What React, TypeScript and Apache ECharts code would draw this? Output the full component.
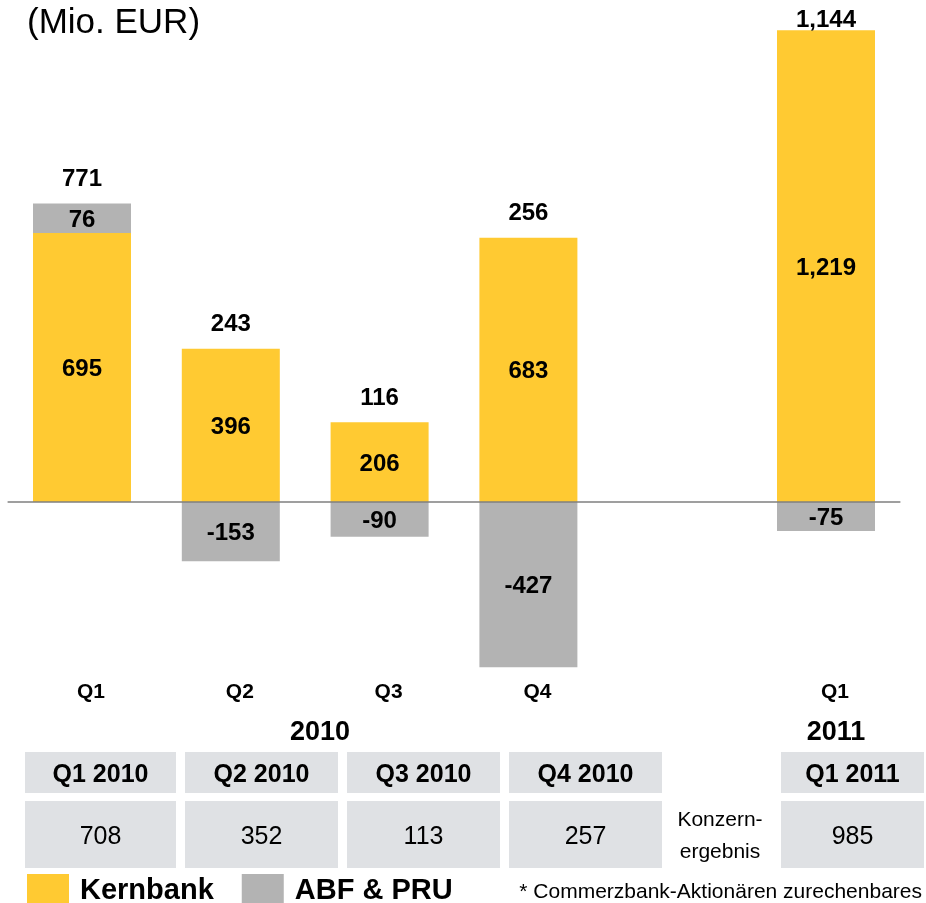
import React, { useEffect, useRef } from "react";
import * as echarts from "echarts";

const categories = ["Q1", "Q2", "Q3", "Q4", "", "Q1"];
const kernbank: (number | null)[] = [695, 396, 206, 683, null, 1219];
const abfPru: (number | null)[] = [76, -153, -90, -427, null, -75];
const yearLabels = ["2010", "2011"];
const tableHeaders = ["Q1 2010", "Q2 2010", "Q3 2010", "Q4 2010", "Q1 2011"];
const konzernergebnis = [708, 352, 113, 257, 985];
const seriesNames = ["Kernbank", "ABF & PRU"];

const FONT = '"Liberation Sans", Arial, Helvetica, sans-serif';
const YELLOW = "#FFCA32";
const GRAY = "#B3B3B3";
const CELL = "#DFE1E4";

const fmt = (v: number) => Number(v).toLocaleString("en-US");

export default function App() {
  const ref = useRef<HTMLDivElement>(null);
  useEffect(() => {
    if (!ref.current) return;
    const chart = echarts.init(ref.current, null, { renderer: "svg" });

    const k = 0.387;
    const zeroY = 502;
    const yMax = 1250;
    const yMin = -450;
    const gridTop = zeroY - yMax * k;
    const gridHeight = (yMax - yMin) * k;

    const totalsData = categories.map((_, i) => {
      const kv = kernbank[i];
      const av = abfPru[i];
      if (kv == null || av == null) return "-";
      const top = kv + Math.max(av, 0);
      const item: any = { value: top, total: kv + av };
      if (i === categories.length - 1) item.label = { distance: 0 };
      return item;
    });

    const colX = [25, 185, 347, 509, 781];
    const colW = [151, 153, 153, 153, 143];
    const graphic: any[] = [];
    graphic.push({
      type: "text",
      x: 27,
      y: 2,
      style: {
        text: "(Mio. EUR)",
        font: `normal 35px ${FONT}`,
        lineHeight: 36,
        fill: "#000",
        textAlign: "left",
        textVerticalAlign: "top",
        align: "left",
        verticalAlign: "top",
      },
    });
    const yearX = [320, 836];
    yearLabels.forEach((y, i) => {
      graphic.push({
        type: "text",
        x: yearX[i],
        y: 731,
        style: {
          text: y,
          font: `bold 27px ${FONT}`,
          fill: "#000",
          textAlign: "center",
          textVerticalAlign: "middle",
          align: "center",
          verticalAlign: "middle",
        },
      });
    });
    tableHeaders.forEach((h, i) => {
      graphic.push({
        type: "rect",
        shape: { x: colX[i], y: 752, width: colW[i], height: 41 },
        style: { fill: CELL },
      });
      graphic.push({
        type: "rect",
        shape: { x: colX[i], y: 801, width: colW[i], height: 67 },
        style: { fill: CELL },
      });
      graphic.push({
        type: "text",
        x: colX[i] + colW[i] / 2,
        y: 772.5,
        style: {
          text: h,
          font: `bold 25px ${FONT}`,
          fill: "#000",
          textAlign: "center",
          textVerticalAlign: "middle",
          align: "center",
          verticalAlign: "middle",
        },
      });
      graphic.push({
        type: "text",
        x: colX[i] + colW[i] / 2,
        y: 834.5,
        style: {
          text: fmt(konzernergebnis[i]),
          font: `normal 25px ${FONT}`,
          fill: "#000",
          textAlign: "center",
          textVerticalAlign: "middle",
          align: "center",
          verticalAlign: "middle",
        },
      });
    });
    graphic.push({
      type: "text",
      x: 720,
      y: 834,
      style: {
        text: "Konzern-\nergebnis",
        font: `normal 21px ${FONT}`,
        lineHeight: 32,
        fill: "#000",
        textAlign: "center",
        textVerticalAlign: "middle",
        align: "center",
        verticalAlign: "middle",
      },
    });
    graphic.push({
      type: "text",
      x: 922,
      y: 890,
      style: {
        text: "* Commerzbank-Aktionären zurechenbares",
        font: `normal 21px ${FONT}`,
        fill: "#000",
        textAlign: "right",
        textVerticalAlign: "middle",
        align: "right",
        verticalAlign: "middle",
      },
    });

    const barLabel = {
      show: true,
      position: "inside",
      color: "#000",
      fontWeight: "bold",
      fontSize: 24,
      fontFamily: FONT,
      formatter: (p: any) => fmt(p.value),
    };

    chart.setOption({
      animation: false,
      textStyle: { fontFamily: FONT },
      grid: { left: 7.6, width: 892.8, top: gridTop, height: gridHeight },
      legend: {
        left: 27,
        top: 874,
        padding: 0,
        itemWidth: 42,
        itemHeight: 29,
        itemGap: 28,
        icon: "rect",
        data: seriesNames,
        textStyle: {
          fontSize: 29,
          fontWeight: "bold",
          color: "#000",
          fontFamily: FONT,
          padding: [0, 0, 0, 6],
        },
      },
      xAxis: {
        type: "category",
        data: categories,
        axisLine: { show: false, onZero: false },
        axisTick: { show: false },
        axisLabel: {
          margin: 4,
          fontSize: 21,
          fontWeight: "bold",
          color: "#000",
          fontFamily: FONT,
          interval: 0,
          padding: [0, 0, 0, 18],
        },
        splitLine: { show: false },
      },
      yAxis: {
        type: "value",
        min: yMin,
        max: yMax,
        show: false,
        splitLine: { show: false },
      },
      graphic,
      series: [
        {
          name: seriesNames[0],
          type: "bar",
          stack: "total",
          barWidth: 98,
          data: kernbank.map((v) => (v == null ? "-" : v)),
          itemStyle: { color: YELLOW },
          label: barLabel,
          markLine: {
            silent: true,
            symbol: ["none", "none"],
            label: { show: false },
            lineStyle: { color: "#7F7F7F", width: 1.5, type: "solid" },
            data: [{ yAxis: 0 }],
          },
        },
        {
          name: seriesNames[1],
          type: "bar",
          stack: "total",
          barWidth: 98,
          data: abfPru.map((v) => (v == null ? "-" : v)),
          itemStyle: { color: GRAY },
          label: barLabel,
        },
        {
          name: "Summe",
          type: "scatter",
          symbolSize: 0,
          itemStyle: { color: "#000", opacity: 1 },
          data: totalsData,
          z: 5,
          label: {
            show: true,
            position: "top",
            distance: 14,
            color: "#000",
            opacity: 1,
            textBorderWidth: 0,
            fontWeight: "bold",
            fontSize: 24,
            lineHeight: 24,
            fontFamily: FONT,
            formatter: (p: any) => fmt(p.data.total),
          },
        },
      ],
    });
    return () => chart.dispose();
  }, []);
  return (
    <div
      ref={ref}
      style={{ position: "fixed", left: 0, top: 0, width: 926, height: 903 }}
    />
  );
}
